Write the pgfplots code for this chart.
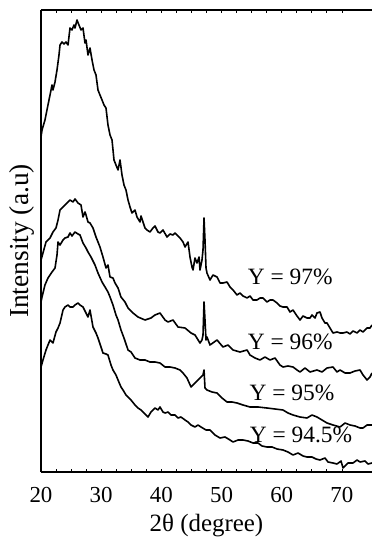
\documentclass[border=0pt]{standalone}
\usepackage{fontspec}
\setmainfont{Liberation Serif}
\usepackage{pgfplots}
\pgfplotsset{compat=1.18}
\begin{document}
\fontsize{22}{26}\selectfont
\begin{tikzpicture}
\useasboundingbox (-41bp,-65bp) rectangle (331bp,472bp);
\begin{axis}[
 at={(0,0)}, anchor=south west,
 scale only axis, width=331bp, height=462bp,
 xmin=20, xmax=75, ymin=0, ymax=462,
 axis x line=box, axis y line=left,
 axis line style={-, line width=1.3bp},
 ytick=\empty,
 xtick={20,30,40,50,60,70}, minor x tick num=3,
 tick align=inside, major tick length=3bp, minor tick length=3bp,
 every tick/.style={line width=0.8bp, black},
 /pgf/number format/assume math mode=true,
 xticklabel style={font=\fontsize{23}{27}\selectfont, anchor=center, yshift=-23bp},
 xlabel={2θ (degree)}, ylabel={Intensity (a.u)},
 xlabel style={font=\fontsize{25}{30}\selectfont, at={(axis description cs:0.5,-0.1277)}, anchor=base, inner sep=0pt},
 ylabel style={font=\fontsize{27.5}{32}\selectfont, at={(axis description cs:-0.057,0.5)}, anchor=center},
]
% Y = 97%
\addplot[black, line width=1.6bp, line join=round] coordinates {
(20.00,335)(20.17,342)(20.66,352)(21.16,367)(21.50,377)(21.83,387)(21.99,382)(22.33,390)(22.66,402)(22.99,417)
(23.16,427)(23.49,430)(23.82,428)(24.15,430)(24.49,427)(24.82,444)(25.15,442)(25.48,447)(25.65,444)(25.98,452)
(26.31,447)(26.65,442)(26.98,444)(27.31,429)(27.48,432)(27.81,417)(28.14,424)(28.48,412)(28.81,402)(29.14,397)
(29.47,382)(29.80,377)(30.14,372)(30.47,367)(30.80,364)(31.13,347)(31.47,337)(31.80,332)(32.13,312)(32.46,307)
(32.80,302)(33.13,312)(33.46,297)(33.79,287)(34.12,282)(34.46,272)(34.79,265)(35.12,259)(35.62,262)(35.95,255)
(36.45,250)(36.62,256)(37.28,244)(37.61,242)(38.11,240)(38.61,244)(38.94,246)(39.44,240)(39.77,239)(40.27,242)
(40.94,235)(41.44,238)(41.93,237)(42.27,239)(42.77,236)(43.10,234)(43.60,230)(43.93,225)(44.43,230)(44.76,215)
(45.09,205)(45.26,202)(45.59,214)(45.92,209)(46.26,215)(46.42,202)(46.75,212)(46.92,222)(47.09,254)(47.25,232)
(47.42,204)(47.58,199)(48.08,192)(48.58,197)(49.25,195)(49.75,189)(50.24,189)(50.91,190)(51.41,185)(51.91,182)
(52.57,177)(53.07,179)(53.57,176)(54.24,174)(54.73,176)(55.23,172)(55.90,172)(56.39,174)(56.89,174)(57.55,170)
(58.05,172)(58.55,172)(59.22,169)(59.71,166)(60.21,165)(60.88,165)(61.38,160)(61.88,162)(62.54,156)(63.04,152)
(63.54,156)(64.20,154)(64.70,154)(65.03,157)(65.53,154)(65.86,159)(66.36,160)(66.69,154)(67.19,149)(67.52,149)
(68.02,144)(68.52,139)(69.19,140)(69.69,139)(70.19,139)(70.85,140)(71.35,138)(71.85,141)(72.52,139)(73.01,142)
(73.51,140)(74.18,144)(74.67,144)(75.00,147)
};
% Y = 96%
\addplot[black, line width=1.6bp, line join=round] coordinates {
(20.00,212)(20.33,219)(20.83,230)(21.50,234)(21.99,240)(22.49,244)(22.83,252)(23.16,262)(23.66,265)(23.99,267)
(24.49,270)(24.82,272)(25.32,270)(25.65,273)(26.15,269)(26.65,267)(26.98,255)(27.31,260)(27.48,257)(27.81,250)
(28.14,249)(28.64,244)(29.14,235)(29.80,225)(30.30,215)(30.80,204)(31.13,207)(31.47,195)(31.96,194)(32.30,189)
(32.80,184)(33.29,175)(33.96,170)(34.46,164)(35.29,159)(36.12,155)(37.28,152)(38.28,154)(38.94,157)(39.77,159)
(40.61,152)(41.11,150)(41.93,152)(42.77,145)(43.93,144)(44.93,139)(45.59,137)(46.42,129)(46.75,132)(46.92,137)
(47.09,170)(47.25,152)(47.42,132)(47.58,135)(48.08,127)(49.25,132)(50.24,125)(51.07,127)(51.91,122)(53.07,120)
(54.24,122)(54.73,117)(55.56,114)(56.39,112)(57.22,115)(58.05,112)(58.88,114)(59.71,107)(60.21,105)(61.04,106)
(61.88,105)(62.54,102)(63.04,100)(63.87,104)(64.70,100)(65.86,102)(66.69,100)(67.52,104)(68.52,105)(69.19,100)
(69.69,102)(70.52,99)(71.35,99)(72.18,101)(73.01,102)(73.51,97)(74.18,92)(74.67,95)(75.00,99)
};
% Y = 95%
\addplot[black, line width=1.6bp, line join=round] coordinates {
(20.00,170)(20.17,175)(20.66,187)(21.16,194)(21.83,200)(22.33,204)(22.66,217)(22.83,230)(23.16,227)(23.66,232)
(23.99,234)(24.49,235)(24.82,239)(25.15,236)(25.65,240)(26.15,238)(26.48,237)(26.98,229)(27.48,224)(27.81,220)
(28.31,215)(28.97,207)(29.47,199)(30.14,190)(30.64,185)(31.13,180)(31.47,175)(31.96,167)(32.46,157)(32.80,152)
(33.29,142)(33.79,134)(34.46,122)(34.95,120)(35.62,114)(36.45,112)(37.28,112)(38.11,110)(38.94,110)(39.77,109)
(40.61,105)(41.44,105)(42.27,104)(43.10,102)(43.60,99)(44.26,94)(44.93,85)(45.59,89)(46.09,92)(46.59,95)
(46.92,97)(47.09,102)(47.25,84)(47.58,82)(48.42,80)(49.25,79)(50.08,74)(50.91,70)(51.74,70)(52.57,69)
(53.57,67)(54.73,65)(56.06,65)(57.55,64)(58.88,63)(60.21,62)(61.04,59)(61.88,57)(63.04,55)(64.20,54)
(65.03,57)(65.86,55)(66.69,52)(67.52,49)(68.52,47)(69.69,45)(70.52,49)(71.35,47)(72.18,46)(73.01,44)
(73.51,44)(74.18,47)(75.00,47)
};
% Y = 94.5%
\addplot[black, line width=1.6bp, line join=round] coordinates {
(20.00,105)(20.33,112)(20.83,122)(21.16,127)(21.50,132)(21.99,129)(22.49,140)(22.83,144)(23.16,149)(23.66,162)
(23.99,165)(24.49,167)(24.82,165)(25.32,165)(25.65,167)(26.15,169)(26.48,167)(26.98,165)(27.48,159)(27.81,155)
(28.14,162)(28.64,145)(29.14,139)(29.47,134)(29.97,125)(30.30,119)(30.80,118)(31.13,117)(31.63,107)(31.96,102)
(32.46,97)(32.80,92)(33.29,85)(33.63,82)(34.12,77)(34.46,75)(34.95,72)(35.62,67)(36.12,64)(36.62,62)
(37.12,59)(37.78,55)(38.28,60)(38.94,64)(39.44,62)(39.77,65)(40.27,60)(40.61,59)(41.11,60)(41.60,57)
(42.27,57)(42.77,54)(43.26,55)(43.93,52)(44.43,50)(44.93,47)(45.59,45)(46.09,47)(46.59,45)(47.42,42)
(48.08,42)(48.91,37)(49.75,34)(50.58,35)(51.41,32)(51.91,30)(52.74,32)(53.57,32)(54.40,31)(55.23,29)
(56.06,29)(56.72,26)(57.55,25)(58.39,25)(59.22,23)(60.21,22)(61.04,20)(61.88,17)(62.71,19)(63.54,16)
(64.20,15)(65.03,15)(65.70,13)(66.36,12)(67.19,14)(67.69,10)(68.52,9)(69.19,8)(69.85,11)(70.19,4)
(70.69,7)(71.02,9)(71.85,9)(72.52,12)(73.01,10)(73.85,11)(74.35,8)(75.00,9)
};
\node[font=\fontsize{23.5}{28}\selectfont] at (axis cs:61.4,195) {Y = 97\%};
\node[font=\fontsize{23.5}{28}\selectfont] at (axis cs:61.4,130) {Y = 96\%};
\node[font=\fontsize{23.5}{28}\selectfont] at (axis cs:61.7,79) {Y = 95\%};
\node[font=\fontsize{23.5}{28}\selectfont] at (axis cs:63.2,37) {Y = 94.5\%};
\end{axis}
\end{tikzpicture}
\end{document}
